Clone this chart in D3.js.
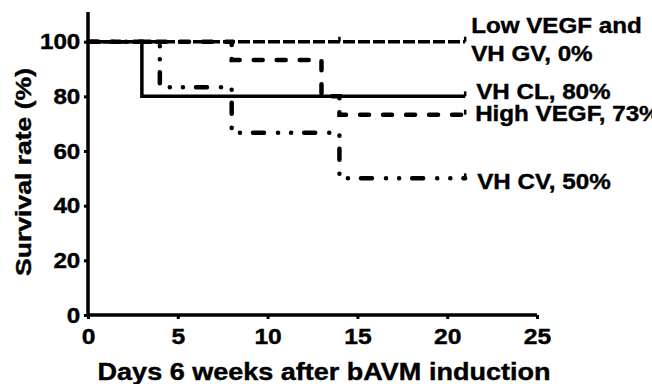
<!DOCTYPE html>
<html>
<head>
<meta charset="utf-8">
<script src="https://cdn.jsdelivr.net/npm/d3@7"></script>
<style>
  body { margin: 0; background: #fff; }
  text { font-family: "Liberation Sans", Arial, sans-serif; font-weight: bold; fill: #000; stroke: #000; stroke-width: 0.4px; }
</style>
</head>
<body>
<div id="chart"></div>
<script>
// Kaplan-Meier steps (day, survival %)
const vhClDays = [0, 3, 21];
const vhClSurv = [100, 80, 80];
const highVegfDays = [0, 8, 13, 14, 21];
const highVegfSurv = [100, 93.3, 80, 73.3, 73.3];
const vhCvDays = [0, 4, 8, 14, 21];
const vhCvSurv = [100, 83.3, 66.7, 50, 50];
const lowVegfDays = [0, 21];
const lowVegfSurv = [100, 100];

// censored observations
const lowVegfCensor = [14, 21];
const vhClCensor = [21];
const highVegfCensor = [21];
const vhCvCensor = [21];

const xTicks = [0, 5, 10, 15, 20, 25];
const yTicks = [0, 20, 40, 60, 80, 100];

const width = 652, height = 384;
const margin = { top: 12, left: 88 };

const svg = d3.select('#chart')
  .append('svg')
  .attr('width', width)
  .attr('height', height);

const x = d3.scaleLinear().domain([0, 25]).range([margin.left, 537]);
const y = d3.scaleLinear().domain([0, 100]).range([315, 41.7]);

const zip = (a, b) => a.map((d, i) => [d, b[i]]);

const series = [
  { name: ['Low VEGF and', 'VH GV, 0%'], pts: zip(lowVegfDays, lowVegfSurv), censor: lowVegfCensor, dash: '12,3', dy: [-9, 19], dx: 6, w: 3.5, cap: 'butt' },
  { name: ['VH CL, 80%'], pts: zip(vhClDays, vhClSurv), censor: vhClCensor, dash: null, dy: [3], dx: 11, w: 3.5, cap: 'butt' },
  { name: ['High VEGF, 73%'], pts: zip(highVegfDays, highVegfSurv), censor: highVegfCensor, dash: '9,14', dy: [6], dx: 10, w: 4.5, cap: 'round' },
  { name: ['VH CV, 50%'], pts: zip(vhCvDays, vhCvSurv), censor: vhCvCensor, dash: '11,14,0.1,13,0.1,13', dy: [11], dx: 12, w: 4.5, cap: 'round' }
];

// axes
const xAxis = svg.append('g')
  .attr('transform', `translate(0,${y(0)})`)
  .call(d3.axisBottom(x).tickValues(xTicks).tickSize(4).tickPadding(9).tickFormat(d3.format('d')));
const yAxis = svg.append('g')
  .attr('transform', `translate(${x(0)},0)`)
  .call(d3.axisLeft(y).tickValues(yTicks).tickSize(4).tickPadding(3).tickFormat(d3.format('d')));

[xAxis, yAxis].forEach(g => {
  g.select('.domain').attr('stroke', '#000').attr('stroke-width', 3.5);
  g.selectAll('.tick line').attr('stroke', '#000').attr('stroke-width', 3);
  g.selectAll('.tick text')
    .attr('font-size', 22)
    .attr('font-family', '"Liberation Sans", Arial, sans-serif')
    .attr('font-weight', 'bold')
    .attr('fill', '#000');
});
xAxis.select('.domain').attr('d', `M${x(0)},0H${x(25)}`);
yAxis.select('.domain').attr('d', `M0,${y(0)}V${margin.top}`);
xAxis.selectAll('.tick text').attr('transform', 'scale(1.12,1)').attr('dy', '0.75em');
yAxis.selectAll('.tick text').attr('transform', 'scale(1.1,1)');

// survival curves
const line = d3.line()
  .x(d => x(d[0]))
  .y(d => y(d[1]))
  .curve(d3.curveStepAfter);

series.forEach(s => {
  svg.append('path')
    .datum(s.pts)
    .attr('fill', 'none')
    .attr('stroke', '#000')
    .attr('stroke-width', s.w)
    .attr('stroke-linecap', s.cap)
    .attr('stroke-dasharray', s.dash)
    .attr('d', line);

  // censor ticks
  const stepY = t => {
    let v = s.pts[0][1];
    s.pts.forEach(p => { if (p[0] <= t) v = p[1]; });
    return v;
  };
  svg.selectAll(null)
    .data(s.censor)
    .enter().append('line')
    .attr('x1', d => x(d)).attr('x2', d => x(d))
    .attr('y1', d => y(stepY(d)))
    .attr('y2', d => y(stepY(d)) - 5)
    .attr('stroke', '#000')
    .attr('stroke-width', 2.5);

  // end label
  const last = s.pts[s.pts.length - 1];
  s.name.forEach((txt, i) => {
    svg.append('text')
      .attr('transform', `translate(${x(last[0]) + s.dx},${y(last[1]) + s.dy[i]}) scale(1.1,1)`)
      .attr('font-size', 22)
      .text(txt);
  });
});

// axis titles
svg.append('text')
  .attr('transform', `translate(${(x(0) + 560) / 2},380) scale(1.15,1)`)
  .attr('text-anchor', 'middle')
  .attr('font-size', 23.5)
  .text('Days 6 weeks after bAVM induction');

svg.append('text')
  .attr('transform', `translate(31,172) rotate(-90) scale(1.18,1)`)
  .attr('text-anchor', 'middle')
  .attr('font-size', 22.5)
  .text('Survival rate (%)');
</script>
</body>
</html>
